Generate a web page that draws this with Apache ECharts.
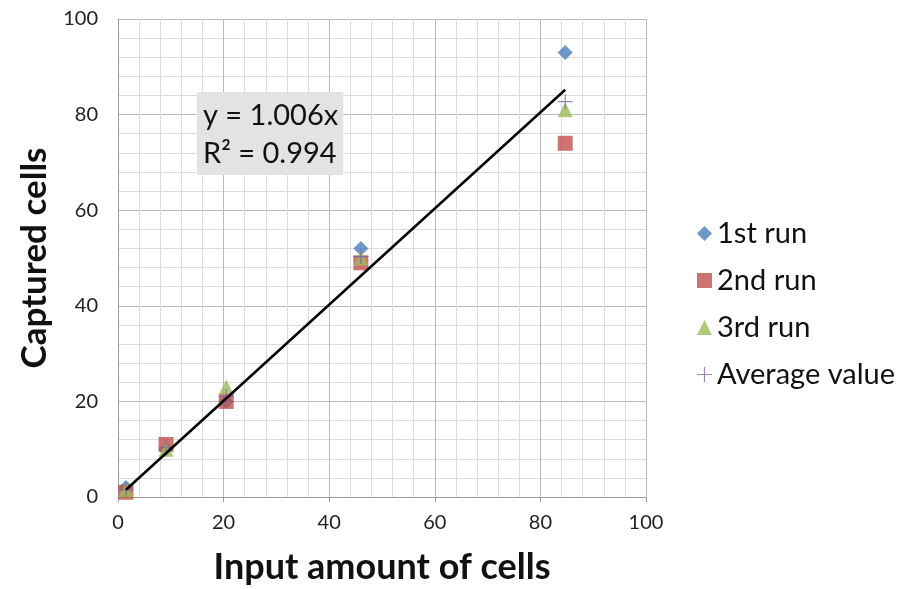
<!DOCTYPE html>
<html><head><meta charset="utf-8">
<script src="https://cdn.jsdelivr.net/npm/echarts@6/dist/echarts.min.js"></script>
<style>html,body{margin:0;padding:0;background:#fff}#c{width:909px;height:589px}</style>
</head><body><div id="c"></div>
<script>
const inputCells = [1.5, 9.1, 20.5, 46, 84.7];
const run1 = [2, 10, 20, 52, 93];
const run2 = [1, 11, 20, 49, 74];
const run3 = [1.5, 10, 23, 50, 81];
const avgValue = [1.5, 10.3, 21, 50.3, 82.7];
const trendSlope = 1.006;
const trendX = [1.5, 84.7];
const rSquared = 0.994;
const seriesNames = ['1st run', '2nd run', '3rd run', 'Average value'];

const font = 'Lato, "Open Sans", sans-serif';
const pair = (xs, ys) => xs.map((x, i) => [x, ys[i]]);
const plusPath = 'path://M9.2,0 L10.8,0 L10.8,9.2 L20,9.2 L20,10.8 L10.8,10.8 L10.8,20 L9.2,20 L9.2,10.8 L0,10.8 L0,9.2 L9.2,9.2 Z';

const chart = echarts.init(document.getElementById('c'));
const axisCommon = {
  min: 0, max: 100, interval: 20,
  axisLine: { show: true, lineStyle: { color: '#9a9a9a', width: 1 } },
  axisTick: { show: true, length: 5, lineStyle: { color: '#9a9a9a' } },
  axisLabel: { fontSize: 20, color: '#222', fontFamily: font },
  splitLine: { show: true, lineStyle: { color: '#b9b9b9', width: 1 } },
  minorTick: { show: true, splitNumber: 5, length: 0 },
  minorSplitLine: { show: true, lineStyle: { color: '#dcdcdc', width: 1 } },
  nameLocation: 'middle',
  nameTextStyle: { fontSize: 36, fontWeight: 'bold', color: '#111', fontFamily: font }
};
chart.setOption({
  animation: false,
  grid: { left: 118, right: 263, top: 19, bottom: 92, containLabel: false, outerBoundsMode: 'none' },
  xAxis: Object.assign({}, axisCommon, { type: 'value', name: 'Input amount of cells', nameGap: 52, axisLabel: Object.assign({}, axisCommon.axisLabel, { margin: 16 }) }),
  yAxis: Object.assign({}, axisCommon, { type: 'value', name: 'Captured cells', nameGap: 65, nameTextStyle: Object.assign({}, axisCommon.nameTextStyle, { fontSize: 35 }), axisTick: { show: false }, axisLabel: Object.assign({}, axisCommon.axisLabel, { margin: 20 }) }),
  legend: {
    orient: 'vertical', left: 692, top: 214, itemGap: 18, itemWidth: 15, itemHeight: 15,
    textStyle: { fontSize: 29, color: '#111', fontFamily: font },
    data: seriesNames
  },
  graphic: [{
    type: 'text', left: 197, top: 92, z: 10,
    style: {
      text: 'y = ' + trendSlope.toFixed(3) + 'x\nR² = ' + rSquared.toFixed(3),
      font: '29px ' + font, fill: '#111', lineHeight: 38,
      backgroundColor: '#e3e3e3', padding: [5, 5, 2, 6]
    }
  }],
  series: [
    { name: 'Trend', type: 'line', data: trendX.map(x => [x, trendSlope * x]), symbol: 'none', lineStyle: { color: '#000', width: 2.5 }, z: 5, silent: true },
    { name: seriesNames[0], type: 'scatter', symbol: 'diamond', symbolSize: 15, itemStyle: { color: '#4a7ebb' }, data: pair(inputCells, run1), z: 3 },
    { name: seriesNames[1], type: 'scatter', symbol: 'rect', symbolSize: 15, itemStyle: { color: '#c0504d' }, data: pair(inputCells, run2), z: 3 },
    { name: seriesNames[2], type: 'scatter', symbol: 'triangle', symbolSize: 15, itemStyle: { color: '#9bbb59' }, data: pair(inputCells, run3), z: 3 },
    { name: seriesNames[3], type: 'scatter', symbol: plusPath, symbolSize: 15, itemStyle: { color: '#8064a2' }, data: pair(inputCells, avgValue), z: 4 }
  ]
});
</script></body></html>
